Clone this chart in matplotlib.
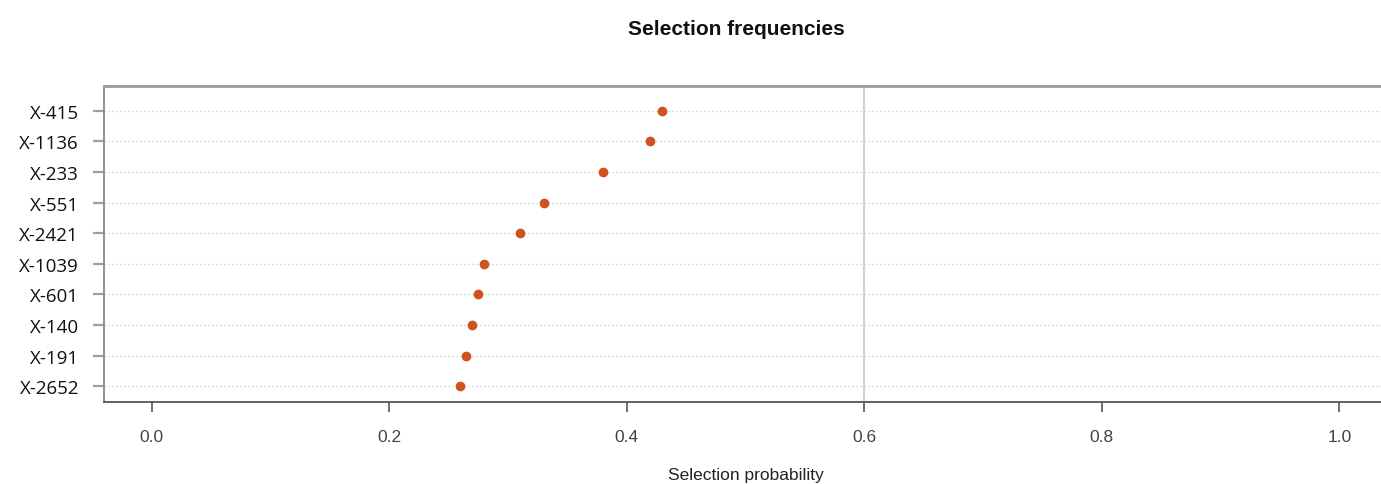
"""Selection frequency dot chart."""

import matplotlib
matplotlib.use("Agg")
import matplotlib.pyplot as plt
import numpy as np

features = ["X-2652", "X-191", "X-140", "X-601", "X-1039",
            "X-2421", "X-551", "X-233", "X-1136", "X-415"]
probabilities = [0.26, 0.265, 0.27, 0.275, 0.28,
                 0.31, 0.33, 0.38, 0.42, 0.43]
x_ticks = [0.0, 0.2, 0.4, 0.6, 0.8, 1.0]
cutoff = 0.6

fig = plt.figure(figsize=(13.81, 4.85), dpi=100)
ax = fig.add_axes([0.0753, 0.169, 0.9247, 0.652])

y_pos = np.arange(len(features))
for y in y_pos:
    ax.axhline(y, color="#c8c8c8", linestyle=(0, (1, 2.2)), linewidth=0.9, zorder=1)
ax.axvline(cutoff, color="#cccccc", linewidth=1.3, zorder=1)
ax.plot(probabilities, y_pos, "o", color="#d0521e", markersize=6, zorder=3)

ax.set_xlim(-0.040, 1.035)
ax.set_ylim(-0.52, 9.82)
ax.set_xticks(x_ticks)
ax.set_xticklabels([f"{t:.1f}" for t in x_ticks], fontsize=12.5, color="#444444",
                   family="Liberation Sans")
ax.set_yticks(y_pos)
ax.set_yticklabels(features, fontsize=13.5, color="#111111", family="Open Sans")
ax.tick_params(axis="x", length=7.5, width=1.2, color="#555555", pad=12)
ax.tick_params(axis="y", length=8, width=1.6, color="#a0a0a0", pad=10)

ax.spines["right"].set_visible(False)
ax.spines["top"].set_color("#999999")
ax.spines["top"].set_linewidth(2)
ax.spines["left"].set_color("#888888")
ax.spines["left"].set_linewidth(1.3)
ax.spines["bottom"].set_color("#555555")
ax.spines["bottom"].set_linewidth(1.3)

fig.text(0.5333, 1 - 35 / 485, "Selection frequencies", ha="center", va="baseline",
         fontsize=15, fontweight="bold", family="Liberation Sans", color="#111111")
fig.text(0.5398, 1 - 480 / 485, "Selection probability", ha="center", va="baseline",
         fontsize=12.5, family="Liberation Sans", color="#222222")

fig.savefig("out.png", dpi=100)
